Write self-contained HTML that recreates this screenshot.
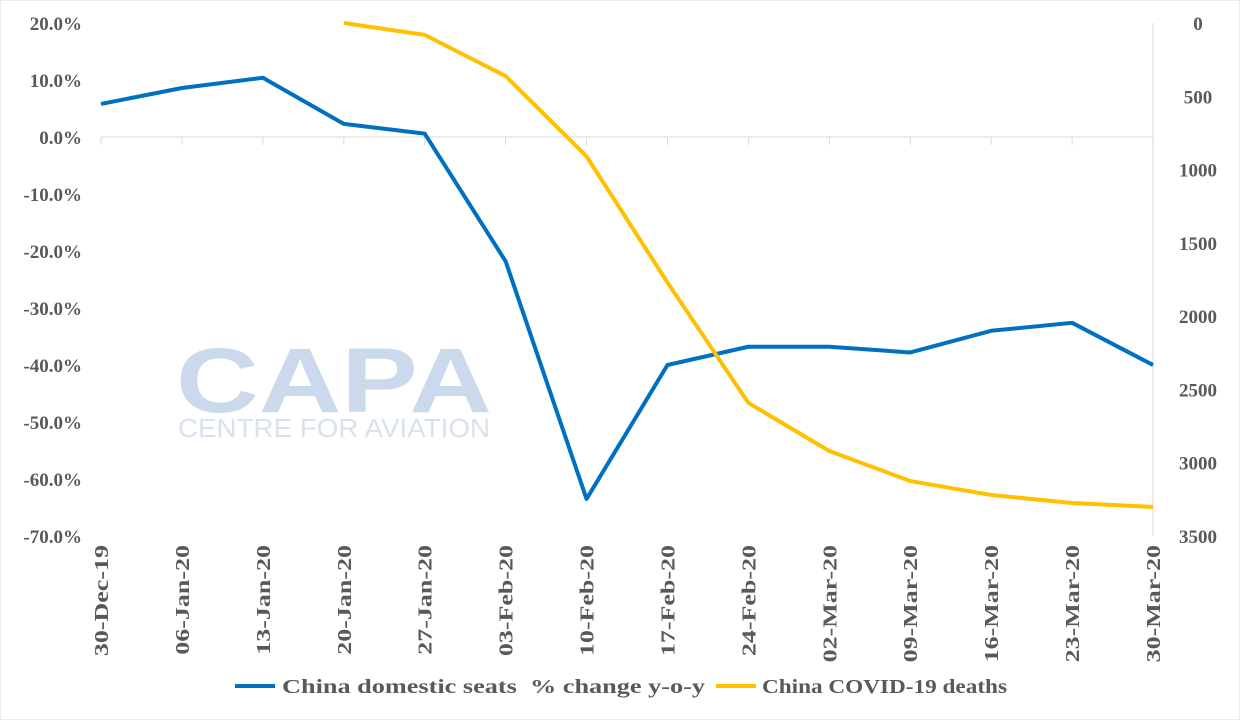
<!DOCTYPE html>
<html><head><meta charset="utf-8"><style>
body{margin:0;background:#fff}
svg{display:block}
text{font-family:"Liberation Serif",serif;font-weight:bold;fill:#595959}
</style></head><body>
<svg id="chart" width="1240" height="720">
<rect x="0" y="0" width="1240" height="720" fill="#fff" stroke="#d9d9d9"/>
<g opacity="0.9">
<text x="176" y="412" style="font-family:'Liberation Sans',sans-serif;font-weight:900;fill:#c5d7ea" font-size="92" textLength="316" lengthAdjust="spacingAndGlyphs">CAPA</text>
<text x="178" y="437" style="font-family:'Liberation Sans',sans-serif;font-weight:normal;fill:#d3dfec" font-size="26" textLength="312" lengthAdjust="spacingAndGlyphs">CENTRE FOR AVIATION</text>
</g>
<g id="axes"></g>
<g id="series"></g>
<g>
<line x1="235" y1="686" x2="275" y2="686" stroke="#0070c0" stroke-width="4"/>
<text x="282" y="693" font-size="20" textLength="423" lengthAdjust="spacingAndGlyphs">China domestic seats&#160;&#160;% change y-o-y</text>
<line x1="716" y1="686" x2="756" y2="686" stroke="#ffc000" stroke-width="4"/>
<text x="762" y="693" font-size="20" textLength="245" lengthAdjust="spacingAndGlyphs">China COVID-19 deaths</text>
</g>
</svg>
<script>
const categories=["30-Dec-19","06-Jan-20","13-Jan-20","20-Jan-20","27-Jan-20","03-Feb-20","10-Feb-20","17-Feb-20","24-Feb-20","02-Mar-20","09-Mar-20","16-Mar-20","23-Mar-20","30-Mar-20"];
const seatsChange=[5.8,8.6,10.4,2.3,0.6,-21.8,-63.5,-40,-36.8,-36.8,-37.8,-34,-32.6,-40];
const deaths=[null,null,null,0,81,362,910,1770,2592,2920,3125,3220,3275,3302];
const leftTicks=[20,10,0,-10,-20,-30,-40,-50,-60,-70];
const rightTicks=[0,500,1000,1500,2000,2500,3000,3500];
const NS="http://www.w3.org/2000/svg";
const X0=101,X1=1153,YT=23,YB=536;
const x=i=>X0+i*(X1-X0)/(categories.length-1);
const yL=v=>YT+(20-v)/90*(YB-YT);
const yR=v=>YT+v/3500*(YB-YT);
function mk(tag,attrs,parent){const e=document.createElementNS(NS,tag);for(const k in attrs)e.setAttribute(k,attrs[k]);parent.appendChild(e);return e;}
const ax=document.getElementById('axes'),se=document.getElementById('series');
let l=mk('line',{x1:X0,y1:yL(0),x2:X1,y2:yL(0),stroke:'#d9d9d9','stroke-width':1},ax);


l=mk('line',{x1:X1,y1:YT,x2:X1,y2:YB,stroke:'#d9d9d9','stroke-width':1},ax);


categories.forEach((c,i)=>{
 const tk=mk('line',{x1:x(i),y1:yL(0),x2:x(i),y2:yL(0)+8,stroke:'#d9d9d9'},ax);
 
 
 const t=mk('text',{x:0,y:0,'font-size':20,'text-anchor':'end',transform:`translate(${x(i)+7},545) rotate(-90)`},ax);
 t.textContent=c;
 
 
 const w=t.getComputedTextLength();
 if(w>0){t.setAttribute('textLength',(w*1.3).toFixed(1));t.setAttribute('lengthAdjust','spacingAndGlyphs');}
});
leftTicks.forEach(v=>{
 const t=mk('text',{x:82,y:yL(v)+7,'font-size':19,'text-anchor':'end'},ax);
 t.textContent=v.toFixed(1)+'%';
 
 
});
rightTicks.forEach(v=>{
 const t=mk('text',{x:1198,y:yR(v)+7,'font-size':19,'text-anchor':'middle'},ax);
 t.textContent=v;
 
 
});
const p1=seatsChange.map((v,i)=>x(i)+','+yL(v)).join(' ');
const s1=mk('polyline',{points:p1,fill:'none',stroke:'#0070c0','stroke-width':4,'stroke-linejoin':'round'},se);


const p2=deaths.map((v,i)=>v===null?null:x(i)+','+yR(v)).filter(Boolean).join(' ');
const s2=mk('polyline',{points:p2,fill:'none',stroke:'#ffc000','stroke-width':4,'stroke-linejoin':'round'},se);


</script>
</body></html>
